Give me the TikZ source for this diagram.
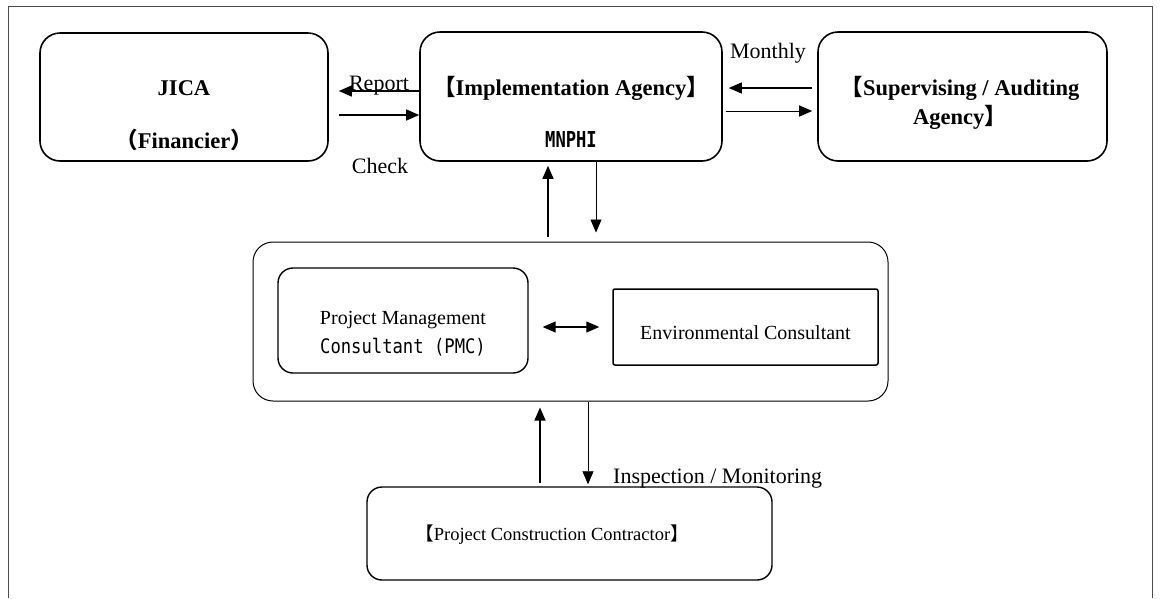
\documentclass[tikz,border=0pt]{standalone}
\usepackage{fontspec}
\setmainfont{Liberation Serif}
\newfontfamily\cjk{Noto Sans CJK JP}
\newfontfamily\gothic{DejaVu Sans Mono}
\usetikzlibrary{arrows.meta}
\newcommand\lbrk{{\cjk 【}}
\newcommand\rbrk{{\cjk 】}}
\begin{document}
\begin{tikzpicture}[x=1pt,y=-1pt,
  box/.style={draw, line width=1.6pt, rounded corners=20pt, inner sep=0pt},
  pbox/.style={draw, line width=1.4pt, rounded corners=15pt, inner sep=0pt},
  ebox/.style={draw, line width=1.5pt, rounded corners=2pt, inner sep=0pt},
  contbox/.style={draw, line width=1pt, rounded corners=20pt, inner sep=0pt},
  bt/.style={font=\fontsize{22.5}{26}\selectfont\bfseries, inner sep=0pt},
  lt/.style={font=\fontsize{22}{26}\selectfont, inner sep=0pt},
  st/.style={font=\fontsize{20}{24}\selectfont, inner sep=0pt},
  gt/.style={font=\fontsize{20}{24}\selectfont\gothic, inner sep=0pt},
  tip/.style={-{Triangle[length=13pt,width=11pt]}},
  arr/.style={tip, line width=1.3pt},
  thinarr/.style={tip, line width=0.7pt}
]
\useasboundingbox (0,0) rectangle (1160,598);
\draw[line width=0.9pt, black!70] (8,598) -- (8,6) -- (1152,6) -- (1152,598);

% boxes
\node[box, minimum width=288pt, minimum height=128pt] (jica) at (184,97) {};
\node[box, minimum width=302pt, minimum height=129pt] (impl) at (571,96.5) {};
\node[box, minimum width=289pt, minimum height=129pt] (sup) at (962.5,96.5) {};
\node[contbox, minimum width=635pt, minimum height=159pt] (cont) at (570.5,321.5) {};
\node[pbox, minimum width=250pt, minimum height=105pt] (pmc) at (403,320.5) {};
\node[ebox, minimum width=265pt, minimum height=76pt] (env) at (745.5,327) {};
\node[pbox, minimum width=405pt, minimum height=93pt] (contr) at (569.5,533.5) {};

% texts
\node[bt] (jica1) at (184,88) {JICA};
\node[bt] (jica2) at (184,140) {{\cjk （}Financier{\cjk ）}};
\node[bt] (impl1) at (571,88) {\lbrk Implementation Agency\rbrk};
\node[gt, font=\fontsize{22}{26}\selectfont\gothic\bfseries] (impl2) at (571,139) {\scalebox{0.78}[1]{MNPHI}};
\node[bt] (sup1) at (960,88) {\lbrk Supervising / Auditing};
\node[bt] (sup2) at (960,117) {Agency\rbrk};
\node[st] (pmc1) at (403,320) {Project Management};
\node[gt] (pmc2) at (403,347) {\scalebox{0.86}[1]{Consultant (PMC)}};
\node[st] (env1) at (745.5,333) {Environmental Consultant};
\node[font=\fontsize{18.5}{22}\selectfont, inner sep=0pt] (contr1) at (552,535) {\lbrk Project Construction Contractor\rbrk};

% labels
\node[lt, anchor=base] (rep) at (379,90) {Report};
\node[lt, anchor=base] (chk) at (380,173) {Check};
\node[lt, anchor=base] (mon) at (768,58) {Monthly};
\node[lt, anchor=base west] (insp) at (613,483) {Inspection / Monitoring};

% connectors
\draw[arr, shorten >=10pt] ([yshift=5.5pt]impl.west) -- ([yshift=6pt]jica.east);
\draw[arr, shorten <=10pt] ([yshift=-18pt]jica.east) -- ([yshift=-18.5pt]impl.west);
\draw[arr, line width=1.2pt, shorten <=5pt, shorten >=6pt] ([yshift=8.5pt]sup.west) -- ([yshift=8.5pt]impl.east);
\draw[arr, line width=1pt, shorten <=3pt, shorten >=5pt] ([yshift=-14.5pt]impl.east) -- ([yshift=-14.5pt]sup.west);
\draw[arr, shorten <=5pt, shorten >=4pt] ([xshift=-22.5pt]cont.north) -- ([xshift=-23pt]impl.south);
\draw[thinarr, shorten >=9pt] ([xshift=25pt]impl.south) -- ([xshift=25.5pt]cont.north);
\draw[{Triangle[length=13pt,width=11pt]}-{Triangle[length=13pt,width=11pt]}, line width=1.2pt, shorten <=14pt, shorten >=13pt] ([yshift=-6.5pt]pmc.east) -- (env.west);
\draw[arr, shorten <=3pt, shorten >=6pt] ([xshift=-29.5pt]contr.north) -- ([xshift=-30.5pt]cont.south);
\draw[thinarr, shorten >=2pt] ([xshift=17.5pt]cont.south) -- ([xshift=18.5pt]contr.north);
\end{tikzpicture}
\end{document}
